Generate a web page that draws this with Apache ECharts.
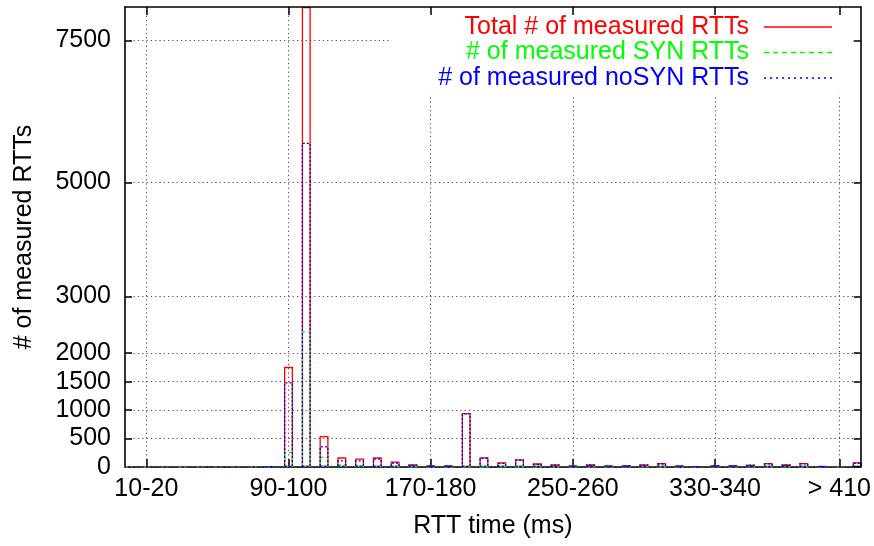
<!DOCTYPE html>
<html>
<head>
<meta charset="utf-8">
<script src="https://cdn.jsdelivr.net/npm/echarts@6/dist/echarts.min.js"></script>
<style>
  html, body { margin: 0; padding: 0; background: #fff; }
  #chart { width: 874px; height: 546px; }
</style>
</head>
<body>
<div id="chart"></div>
<script>
// RTT bins (index 0 = "0-10"); only some are labelled on the axis
const categories = [
    '0-10', '10-20', '20-30', '30-40', '40-50', '50-60', '60-70', '70-80', '80-90', '90-100',
    '100-110', '110-120', '120-130', '130-140', '140-150', '150-160', '160-170', '170-180', '180-190', '190-200',
    '200-210', '210-220', '220-230', '230-240', '240-250', '250-260', '260-270', '270-280', '280-290', '290-300',
    '300-310', '310-320', '320-330', '330-340', '340-350', '350-360', '360-370', '370-380', '380-390', '390-400',
    '> 410', ''
];
const labelledBins = [1, 9, 17, 25, 33, 40];

const totalRtts = [
    3, 2, 3, 2, 3, 4, 5, 6, 12, 1760,
    8085, 545, 170, 150, 170, 97, 50, 30, 32, 950,
    173, 85, 138, 64, 50, 30, 47, 30, 32, 50,
    70, 30, 15, 32, 32, 42, 70, 47, 70, 18,
    5, 85
];
const synRtts = [
    1, 0, 1, 0, 1, 1, 1, 2, 3, 270,
    2385, 180, 50, 30, 20, 15, 8, 5, 4, 5,
    8, 10, 8, 6, 5, 4, 5, 3, 3, 5,
    6, 3, 2, 3, 3, 4, 5, 4, 5, 2,
    1, 8
];
const noSynRtts = [
    2, 2, 2, 2, 2, 3, 4, 4, 9, 1490,
    5700, 365, 120, 120, 150, 82, 42, 25, 28, 945,
    165, 75, 130, 58, 45, 26, 42, 27, 29, 45,
    64, 27, 13, 29, 29, 38, 65, 43, 65, 16,
    4, 77
];
const yTicks = [0, 500, 1000, 1500, 2000, 3000, 5000, 7500];
const yMax = 8085;

const FONT = 'Liberation Sans';
const seriesNames = ['Total # of measured RTTs', '# of measured SYN RTTs', '# of measured noSYN RTTs'];
const seriesColors = ['#ff0000', '#00ff00', '#0000ff'];

// legend line samples (solid / dashed / dotted)
function dashPath (dash, period, total) {
    let p = 'path://';
    for (let x = 0; x + dash <= total + 0.01; x += period) {
        p += 'M' + x.toFixed(2) + ',0h' + dash + 'v1.5h-' + dash + 'z ';
    }
    return p;
}
const legendIcons = [
    'path://M0,0h68v1.5h-68z',
    dashPath(5, 8.8, 68),
    dashPath(2, 5.6, 68)
];
const borderTypes = ['solid', [4, 3], [2, 2]];

const pairs = arr => arr.map((v, i) => [i, v]);
const seriesData = [totalRtts, synRtts, noSynRtts];

const axisFont = { fontFamily: FONT, fontSize: 25, color: '#000' };
const borderLine = { show: true, onZero: false, lineStyle: { color: '#000', width: 1.6 } };
const gridLine = { show: true, lineStyle: { color: '#555', width: 1, type: [1.3, 3] } };

const chart = echarts.init(document.getElementById('chart'), null, { renderer: 'canvas' });

chart.setOption({
    animation: false,
    backgroundColor: '#fff',
    textStyle: { fontFamily: FONT },
    grid: { left: 125, right: 12, top: 7, bottom: 79, containLabel: false },
    legend: {
        orient: 'vertical',
        align: 'right',
        right: 14,
        top: 8,
        padding: [6.5, 28, 4, 48],
        itemGap: 0.5,
        itemWidth: 68,
        itemHeight: 2,
        backgroundColor: '#fff',
        selectedMode: false,
        textStyle: { fontFamily: FONT, fontSize: 25, padding: [0, 10, 0, 0] },
        data: seriesNames.map((name, i) => ({
            name: name,
            icon: legendIcons[i],
            itemStyle: { color: seriesColors[i], borderWidth: 0 },
            textStyle: { color: seriesColors[i] }
        }))
    },
    xAxis: [{
        type: 'value',
        min: -0.2,
        max: 41.2,
        position: 'bottom',
        name: 'RTT time (ms)',
        nameLocation: 'middle',
        nameGap: 47,
        nameTextStyle: axisFont,
        axisLine: borderLine,
        axisTick: { show: true, inside: true, length: 8, customValues: labelledBins, lineStyle: { color: '#000', width: 1.5 } },
        axisLabel: Object.assign({ margin: 10, customValues: labelledBins, formatter: v => categories[v] }, axisFont),
        splitLine: gridLine
    }, {
        type: 'value',
        min: -0.2,
        max: 41.2,
        position: 'top',
        z: 10,
        axisLine: borderLine,
        axisTick: { show: true, inside: true, length: 8, customValues: labelledBins, lineStyle: { color: '#000', width: 1.5 } },
        axisLabel: { show: false },
        splitLine: { show: false }
    }],
    yAxis: [{
        type: 'value',
        min: 0,
        max: yMax,
        position: 'left',
        name: '# of measured RTTs',
        nameLocation: 'middle',
        nameGap: 88,
        nameTextStyle: axisFont,
        axisLine: borderLine,
        axisTick: { show: true, inside: true, length: 7, customValues: yTicks, lineStyle: { color: '#000', width: 1.5 } },
        axisLabel: Object.assign({ margin: 14, customValues: yTicks, formatter: v => String(v) }, axisFont),
        splitLine: gridLine
    }, {
        type: 'value',
        min: 0,
        max: yMax,
        position: 'right',
        z: 10,
        axisLine: borderLine,
        axisTick: { show: true, inside: true, length: 7, customValues: yTicks, lineStyle: { color: '#000', width: 1.5 } },
        axisLabel: { show: false },
        splitLine: { show: false }
    }],
    series: seriesNames.map((name, i) => ({
        name: name,
        type: 'bar',
        xAxisIndex: 0,
        yAxisIndex: 0,
        barWidth: 9,
        barGap: '-100%',
        clip: true,
        silent: true,
        itemStyle: {
            color: 'rgba(0,0,0,0)',
            borderColor: seriesColors[i],
            borderWidth: 1.3,
            borderType: borderTypes[i]
        },
        emphasis: { disabled: true },
        data: pairs(seriesData[i])
    }))
});
</script>
</body>
</html>
